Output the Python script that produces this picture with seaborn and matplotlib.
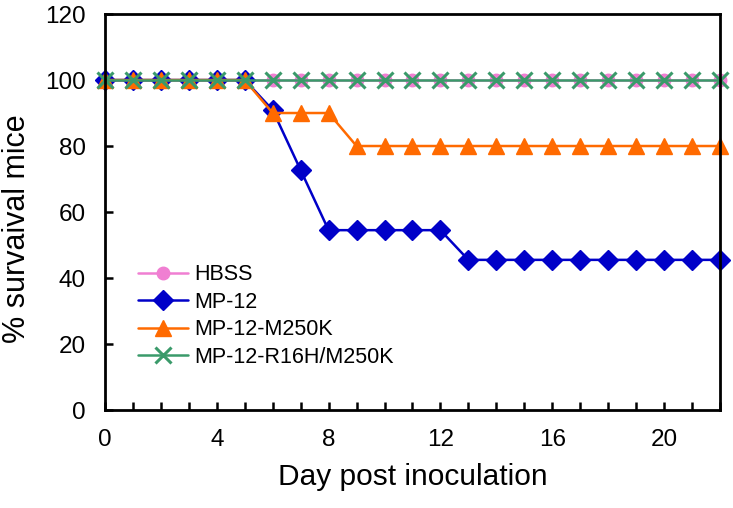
import numpy as np
import matplotlib
matplotlib.use("Agg")
import matplotlib.pyplot as plt
import seaborn as sns

# survival data
days = list(range(0, 23))
hbss = [100] * 23
mp12 = [100, 100, 100, 100, 100, 100, 90.9, 72.7, 54.5, 54.5, 54.5, 54.5, 54.5,
        45.5, 45.5, 45.5, 45.5, 45.5, 45.5, 45.5, 45.5, 45.5, 45.5]
m250k = [100, 100, 100, 100, 100, 100, 90, 90, 90, 80, 80, 80, 80,
         80, 80, 80, 80, 80, 80, 80, 80, 80, 80]
r16h_m250k = [100] * 23

series_names = ["HBSS", "MP-12", "MP-12-M250K", "MP-12-R16H/M250K"]
series_vals = [hbss, mp12, m250k, r16h_m250k]
colors = ["#f07fd2", "#0000c8", "#ff6a00", "#3a9a6a"]
markers = ["o", "D", "^", "x"]
msizes = [9, 10, 12, 12]

sns.set_style("ticks")
plt.rcParams["font.family"] = ["Liberation Sans", "DejaVu Sans"]
plt.rcParams["text.color"] = "black"
plt.rcParams["axes.labelcolor"] = "black"
plt.rcParams["xtick.color"] = "black"
plt.rcParams["ytick.color"] = "black"

fig = plt.figure(figsize=(7.33, 5.08), dpi=100)
ax = fig.add_axes([0.1432, 0.1929, 0.839, 0.7795])

for name, vals, c, m, ms in zip(series_names, series_vals, colors, markers, msizes):
    sns.lineplot(x=days, y=vals, ax=ax, color=c, marker=m, markersize=ms,
                 markeredgecolor=c, markerfacecolor=c,
                 markeredgewidth=2.2 if m == "x" else 1,
                 linewidth=1.8, label=name, clip_on=False)

ax.set_xlim(0, 22)
ax.set_ylim(0, 120)
ax.set_xticks(days)
ax.set_xticklabels([str(d) if d % 4 == 0 else "" for d in days])
ax.set_yticks(range(0, 121, 20))
ax.tick_params(direction="in", length=6, width=1.8, labelsize=17.5, pad=14)

for sp in ax.spines.values():
    sp.set_linewidth(2)
    sp.set_color("black")

ax.set_xlabel("Day post inoculation", fontsize=21.5, labelpad=8)
ax.set_ylabel("% survaival mice", fontsize=22)
ax.yaxis.set_label_coords(-0.118, 0.457)

ax.legend(loc="lower left", bbox_to_anchor=(0.04, 0.085), frameon=False,
          fontsize=15.5, handlelength=2.3, labelspacing=0.3, handletextpad=0.3,
          borderaxespad=0)

fig.savefig("out.png", dpi=100)
